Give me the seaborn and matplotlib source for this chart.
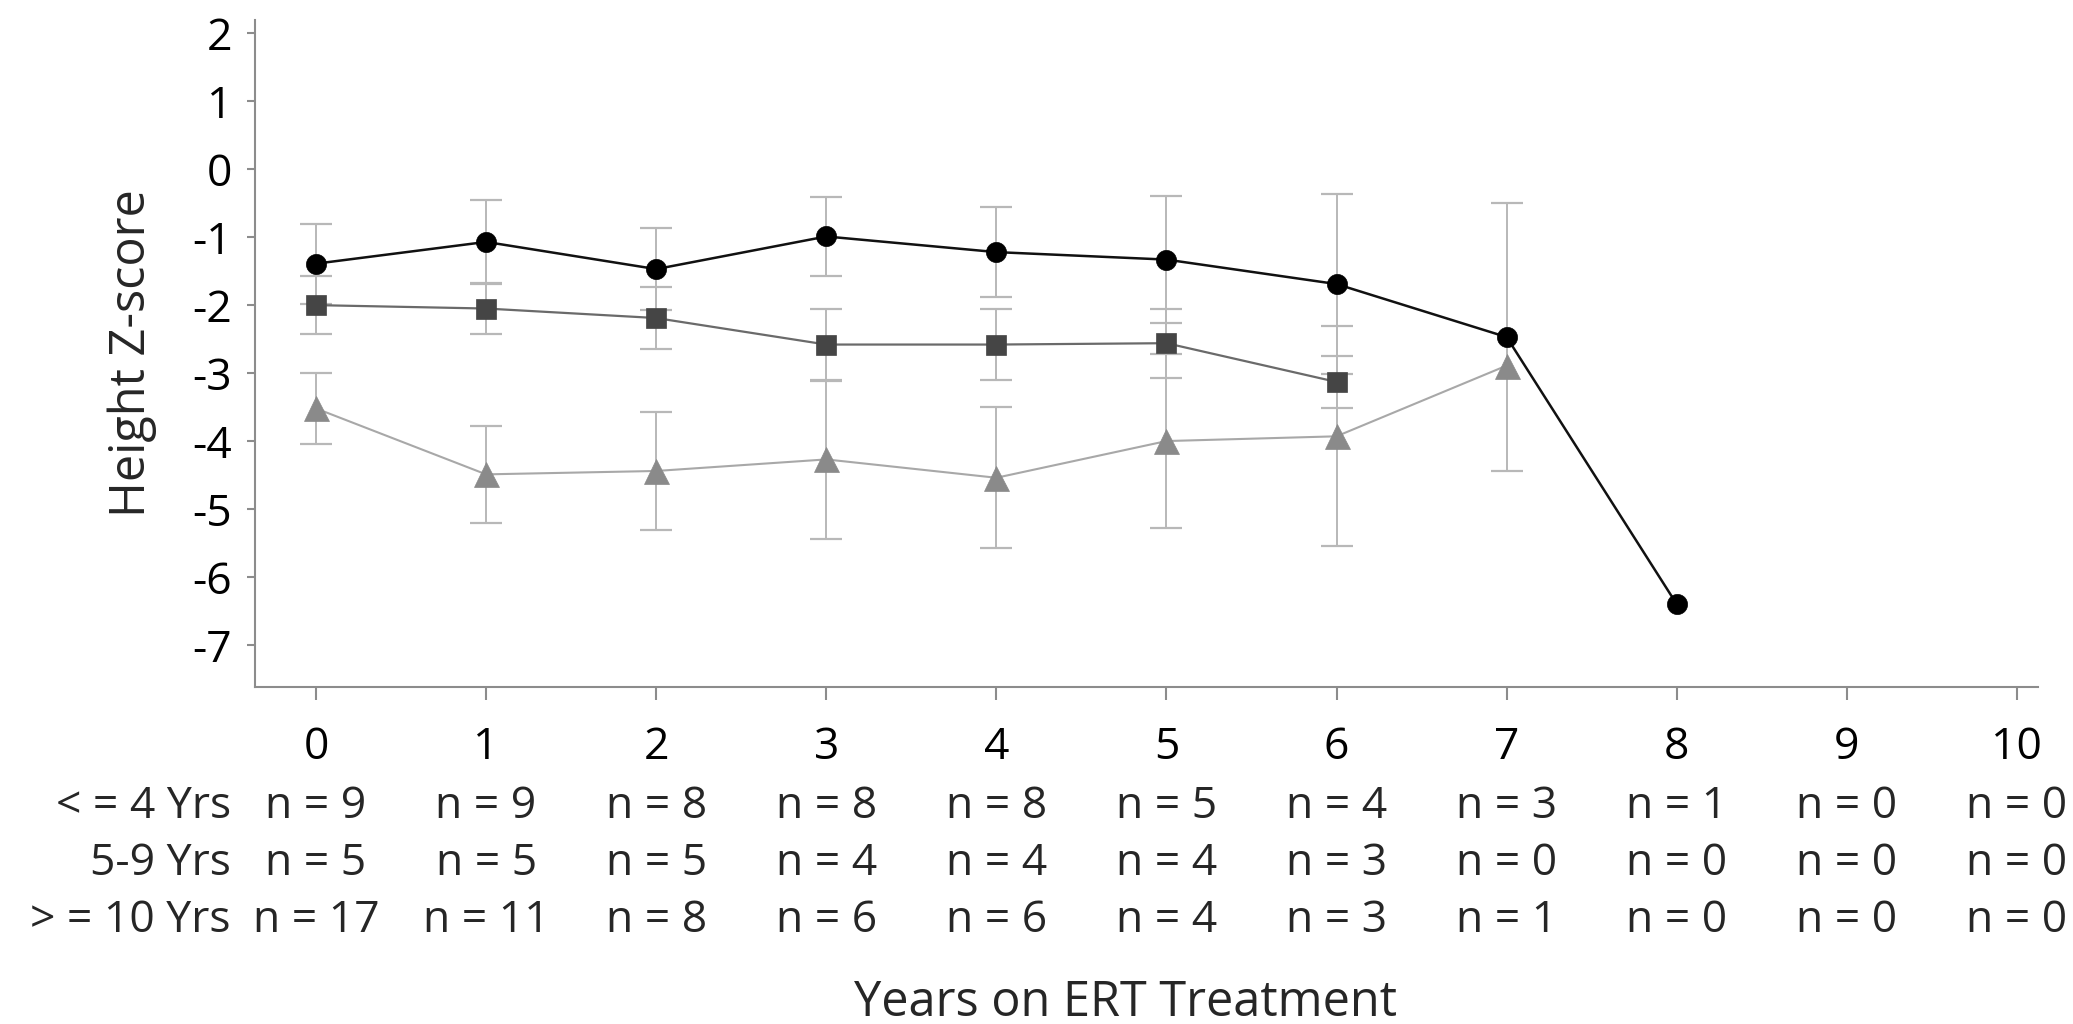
import numpy as np
import pandas as pd
import matplotlib
matplotlib.use("Agg")
import matplotlib.pyplot as plt
from matplotlib import transforms
import seaborn as sns

# ---------------- data ----------------
years_le4 = [0, 1, 2, 3, 4, 5, 6, 7, 8]
mean_le4 = [-1.39, -1.07, -1.47, -0.99, -1.22, -1.33, -1.69, -2.47, -6.40]
sd_le4 = [0.59, 0.62, 0.60, 0.58, 0.66, 0.93, 1.33, 1.97, np.nan]

years_5_9 = [0, 1, 2, 3, 4, 5, 6]
mean_5_9 = [-2.00, -2.05, -2.19, -2.58, -2.58, -2.56, -3.13]
sd_5_9 = [0.43, 0.38, 0.45, 0.53, 0.52, 0.51, 0.38]

years_ge10 = [0, 1, 2, 3, 4, 5, 6, 7]
mean_ge10 = [-3.52, -4.49, -4.44, -4.27, -4.54, -4.00, -3.93, -2.89]
sd_ge10 = [0.52, 0.71, 0.87, 1.17, 1.04, 1.28, 1.62, np.nan]

x_ticks = [0, 1, 2, 3, 4, 5, 6, 7, 8, 9, 10]
y_ticks = [2, 1, 0, -1, -2, -3, -4, -5, -6, -7]
row_labels = ["< = 4 Yrs", "5-9 Yrs", "> = 10 Yrs"]
n_le4 = [9, 9, 8, 8, 8, 5, 4, 3, 1, 0, 0]
n_5_9 = [5, 5, 5, 4, 4, 4, 3, 0, 0, 0, 0]
n_ge10 = [17, 11, 8, 6, 6, 4, 3, 1, 0, 0, 0]
x_label = "Years on ERT Treatment"
y_label = "Height Z-score"

# ---------------- style ----------------
sns.set_style("ticks")
plt.rcParams['font.family'] = ['Open Sans', 'DejaVu Sans']
plt.rcParams['axes.unicode_minus'] = False

W, H = 2073, 1024
fig = plt.figure(figsize=(W / 100, H / 100), dpi=100)
ax = fig.add_axes([255 / W, 1 - 686.7 / H, (2038 - 255) / W, (686.7 - 20) / H])

series = [
    (years_ge10, mean_ge10, sd_ge10, "^", 18, "#8a8a8a", "#a8a8a8", 1.5, 3),
    (years_5_9, mean_5_9, sd_5_9, "s", 14, "#454545", "#6a6a6a", 1.6, 4),
    (years_le4, mean_le4, sd_le4, "o", 14.5, "#000000", "#111111", 1.8, 5),
]

err_color = "#b8b8b8"
for xs, ms_, sds, mk, msz, mcol, lcol, lw, z in series:
    df = pd.DataFrame({"year": xs, "mean": ms_, "sd": sds})
    # error bars (mean +/- SD)
    d = df.dropna(subset=["sd"])
    ax.errorbar(d["year"], d["mean"], yerr=d["sd"], fmt="none",
                ecolor=err_color, elinewidth=1.4, capsize=11.5, capthick=1.6,
                zorder=1)
    sns.lineplot(data=df, x="year", y="mean", ax=ax, color=lcol, lw=lw,
                 marker=mk, markersize=msz, markerfacecolor=mcol,
                 markeredgecolor=mcol, markeredgewidth=0.5,
                 errorbar=None, zorder=z, legend=False)

ax.set_xlim(-0.3586, 10.124)
ax.set_ylim(-7.614, 2.195)
ax.set_xticks(x_ticks)
ax.set_xticklabels([str(v) for v in x_ticks])
ax.set_yticks(y_ticks)
ax.set_yticklabels([str(v) for v in y_ticks])

for side in ["top", "right"]:
    ax.spines[side].set_visible(False)
for side in ["left", "bottom"]:
    ax.spines[side].set_color("#8c8c8c")
    ax.spines[side].set_linewidth(1.5)

ax.tick_params(axis="x", length=9.4, width=1.5, color="#8c8c8c",
               pad=18.5, labelsize=32, labelcolor="black")
ax.tick_params(axis="y", length=5.8, width=1.5, color="#8c8c8c",
               pad=10.5, labelsize=32, labelcolor="black")

ax.set_xlabel(x_label, fontsize=35)
ax.xaxis.set_label_coords(0.488, -0.437)
ax.set_ylabel(y_label, fontsize=35)
ax.yaxis.set_label_coords(-0.055, 0.5)

# n table under the axis
trans = transforms.blended_transform_factory(ax.transData, fig.transFigure)
baselines = [818, 875, 932]
for label, counts, base in zip(row_labels, [n_le4, n_5_9, n_ge10], baselines):
    yf = 1 - base / H
    fig.text(231 / W, yf, label, ha="right", va="baseline", fontsize=32)
    for xv, c in zip(x_ticks, counts):
        ax.text(xv, yf, f"n = {c}", transform=trans, ha="center",
                va="baseline", fontsize=32, clip_on=False)

fig.savefig("out.png", dpi=100)
